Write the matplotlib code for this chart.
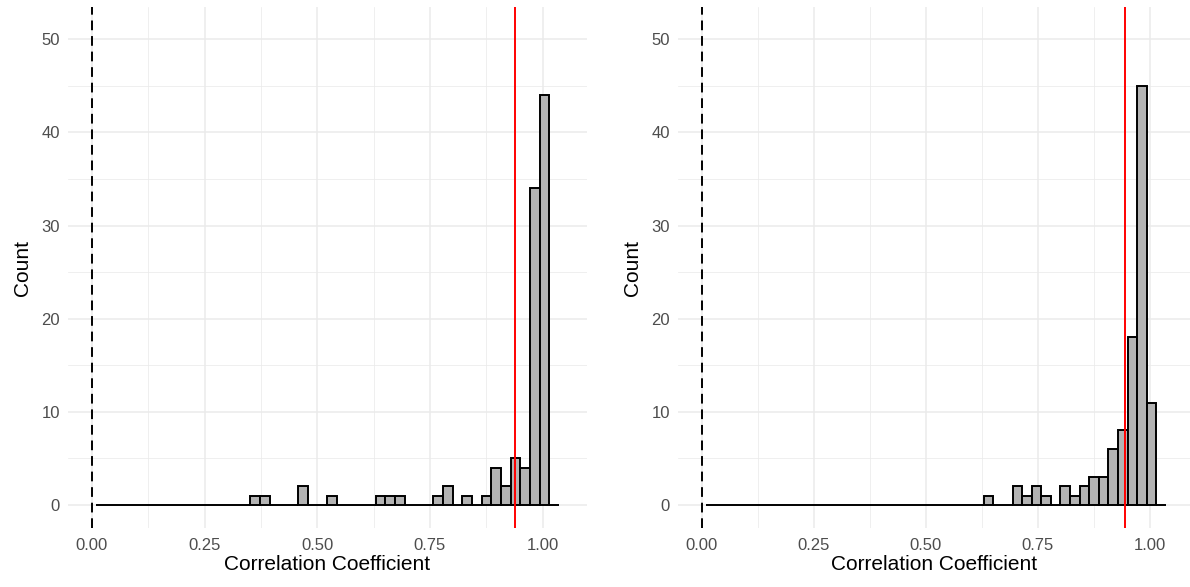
import matplotlib
matplotlib.use("Agg")
import matplotlib.pyplot as plt
from matplotlib.ticker import MultipleLocator
import numpy as np

plt.rcParams['font.family'] = ['Liberation Sans', 'DejaVu Sans']

# histogram bins shared by both panels
bin_start = 0.009
bin_width = 0.0214
n_bins = 48

# counts per bin (index 0 .. 47)
left_counts = [0] * 16 + [1, 1, 0, 0, 0, 2, 0, 0, 1, 0, 0, 0, 0, 1, 1, 1,
                          0, 0, 0, 1, 2, 0, 1, 0, 1, 4, 2, 5, 4, 34, 44, 0]
right_counts = [0] * 29 + [1, 0, 0, 2, 1, 2, 1, 0, 2, 1, 2, 3, 3, 6, 8,
                           18, 45, 11, 0]

left_ref = 0.939
right_ref = 0.946

x_ticks = [0.00, 0.25, 0.50, 0.75, 1.00]
y_ticks = [0, 10, 20, 30, 40, 50]

W, H = 1190, 587
fig = plt.figure(figsize=(W / 100, H / 100), dpi=100)

panels = [
    # left px, right px, xlim, counts, red line
    (68.3, 586.7, (-0.0524, 1.098), left_counts, left_ref),
    (678.4, 1190.0, (-0.052, 1.090), right_counts, right_ref),
]
top_px, bot_px = 7.3, 528.0

for lpx, rpx, xl, counts, ref in panels:
    ax = fig.add_axes([lpx / W, 1 - bot_px / H, (rpx - lpx) / W, (bot_px - top_px) / H])
    ax.set_xlim(*xl)
    ax.set_ylim(-2.47, 53.44)

    # grid like theme_minimal
    ax.set_xticks(x_ticks)
    ax.set_yticks(y_ticks)
    ax.xaxis.set_minor_locator(MultipleLocator(0.125))
    ax.yaxis.set_minor_locator(MultipleLocator(5))
    ax.grid(which='major', color='#EBEBEB', lw=1.1)
    ax.grid(which='minor', color='#EBEBEB', lw=0.55)
    ax.set_axisbelow(True)
    for s in ax.spines.values():
        s.set_visible(False)
    ax.tick_params(which='both', length=0)
    ax.tick_params(axis='both', labelsize=12, labelcolor='#4D4D4D')
    ax.tick_params(axis='x', pad=7)
    ax.tick_params(axis='y', pad=6)
    ax.set_xticklabels(['%.2f' % t for t in x_ticks])

    lefts = bin_start + bin_width * np.arange(n_bins)
    ax.bar(lefts, counts, width=bin_width, align='edge', color='#B3B3B3',
           edgecolor='black', linewidth=1.4, zorder=2)

    ax.axvline(0, color='black', lw=1.4, ls=(0, (5, 3)), zorder=3)
    ax.axvline(ref, color='red', lw=1.4, zorder=3)

    ax.set_xlabel('Correlation Coefficient', fontsize=15, labelpad=2)
    ax.set_ylabel('Count', fontsize=15, labelpad=7)

fig.savefig('out.png', dpi=100)
